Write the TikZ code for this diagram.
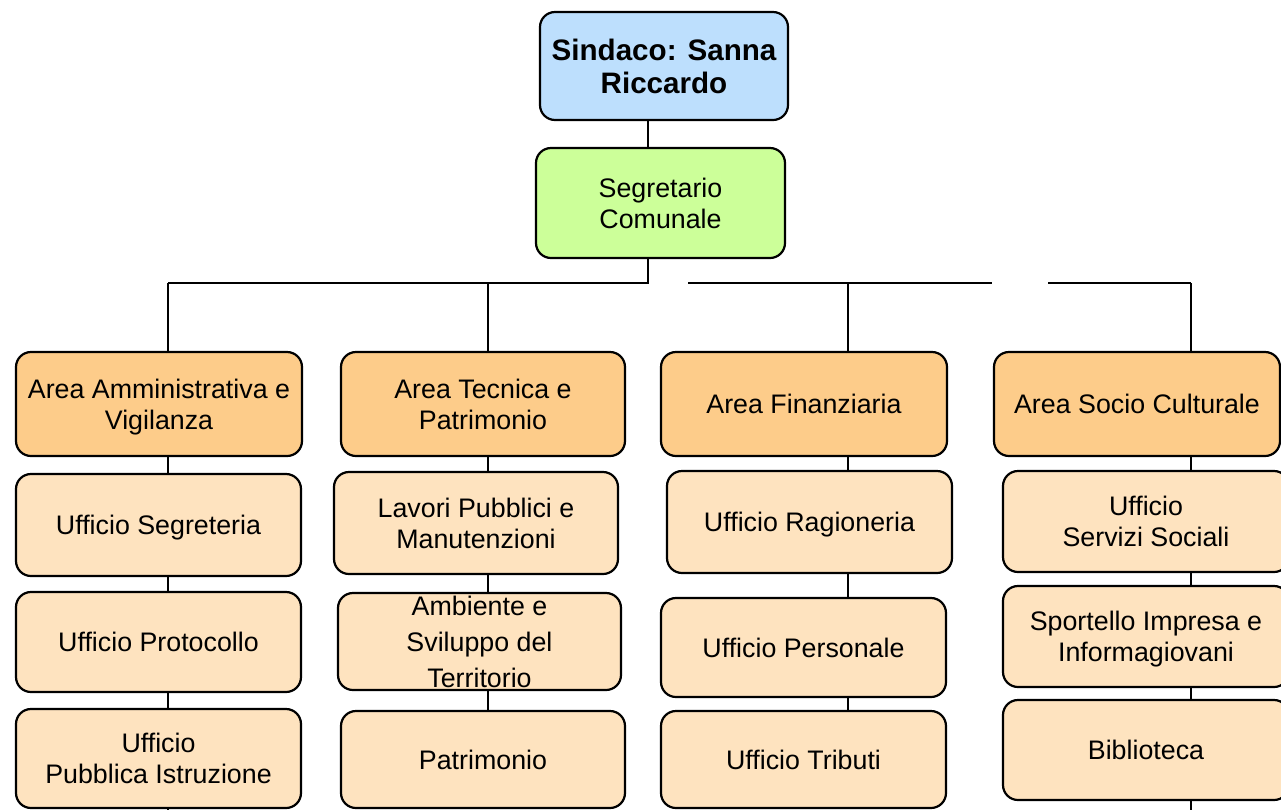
\documentclass[tikz,border=0pt]{standalone}
\usepackage{fontspec}
\setmainfont{Liberation Sans}
\usepackage{tikz}

\definecolor{sindacoblue}{HTML}{BDDFFD}
\definecolor{segrgreen}{HTML}{CCFF99}
\definecolor{areaorange}{HTML}{FDCC8A}
\definecolor{ufficiopeach}{HTML}{FEE3BF}

\tikzset{
  box/.style={draw=black, line width=1.1pt, rounded corners=7.5pt, align=center, inner sep=0pt,
    text depth=0pt, font=\fontsize{13.4}{15.5}\selectfont},
  areabox/.style={box, fill=areaorange, minimum width=143pt, minimum height=52pt},
  uffbox/.style={box, fill=ufficiopeach, minimum width=142.5pt, minimum height=50pt},
  link/.style={line width=0.8pt},
}

\begin{document}
\begin{tikzpicture}[x=0.5pt,y=-0.5pt]
            \clip (0,0) rectangle (1281,810);
            % Top boxes
            \node[box, fill=sindacoblue, minimum width=124pt, minimum height=54pt,
              font=\bfseries\fontsize{14.8}{16.5}\selectfont] (sindaco) at (664,66) {Sindaco: Sanna\\Riccardo};
            \node[box, fill=segrgreen, minimum width=124.5pt, minimum height=55pt] (segretario) at (660.5,203) {Segretario\\Comunale};
            % Areas
            \node[areabox] (areaAmm) at (159,404) {Area Amministrativa e\\Vigilanza};
            \node[areabox, minimum width=142pt] (areaTec) at (483,404) {Area Tecnica e\\Patrimonio};
            \node[areabox] (areaFin) at (804,404) {Area Finanziaria};
            \node[areabox] (areaSoc) at (1137,404) {Area Socio Culturale};
            % Uffici
            \node[uffbox, minimum height=51pt] (segreteria) at (158.5,525) {Ufficio Segreteria};
            \node[uffbox] (protocollo) at (158.5,642) {Ufficio Protocollo};
            \node[uffbox, minimum height=49.5pt] (istruzione) at (158.5,758.5) {Ufficio\\Pubblica Istruzione};
            \node[uffbox, minimum width=142pt, minimum height=51pt] (lavori) at (476,523) {Lavori Pubblici e\\Manutenzioni};
            \node[uffbox, minimum width=141.5pt, minimum height=48.5pt,
              font=\fontsize{13.4}{18}\selectfont] (ambiente) at (479.5,641.5) {Ambiente e\\Sviluppo del\\Territorio};
            \node[uffbox, minimum width=142pt, minimum height=48.5pt] (patrimonio) at (483,759.5) {Patrimonio};
            \node[uffbox, minimum height=51pt, text depth=-2.5pt] (ragioneria) at (809.5,522) {Ufficio Ragioneria};
            \node[uffbox, minimum height=49.5pt] (personale) at (803.5,647.5) {Ufficio Personale};
            \node[uffbox, minimum height=48.5pt, text depth=-3pt] (tributi) at (803.5,759.5) {Ufficio Tributi};
            \node[uffbox, minimum width=143pt, minimum height=50.5pt] (servizi) at (1146,521.5) {Ufficio\\Servizi Sociali};
            \node[uffbox, minimum width=143pt, minimum height=50.5pt] (sportello) at (1146,636.5) {Sportello Impresa e\\Informagiovani};
            \node[uffbox, minimum width=143pt] (biblioteca) at (1146,750) {Biblioteca};
            % Bus line
            \coordinate (busTop) at (648,283);
            \coordinate (busAmm) at (168,283);
            \coordinate (busTec) at (488,283);
            \coordinate (busFin) at (848,283);
            \coordinate (busSoc) at (1191,283);
            \coordinate (gapL) at (688,283);
            \coordinate (gapR) at (992,283);
            \coordinate (gapS) at (1048,283);
            \coordinate (endAmm) at (168,810);
            \coordinate (endSoc) at (1191,810);
            \draw[link] (sindaco.south -| busTop) -- (segretario.north -| busTop);
            \draw[link] (segretario.south -| busTop) -- (busTop) -- (busAmm);
            \draw[link] (gapL) -- (gapR);
            \draw[link] (gapS) -- (busSoc);
            % Columns
            \foreach \bus/\a in {busAmm/areaAmm, busTec/areaTec, busFin/areaFin, busSoc/areaSoc}
              \draw[link] (\bus) -- (\a.north -| \bus);
            \foreach \bus/\a/\b in {busAmm/areaAmm/segreteria, busAmm/segreteria/protocollo, busAmm/protocollo/istruzione,
                busTec/areaTec/lavori, busTec/lavori/ambiente, busTec/ambiente/patrimonio,
                busFin/areaFin/ragioneria, busFin/ragioneria/personale, busFin/personale/tributi,
                busSoc/areaSoc/servizi, busSoc/servizi/sportello, busSoc/sportello/biblioteca}
              \draw[link] (\a.south -| \bus) -- (\b.north -| \bus);
            \draw[link] (istruzione.south -| endAmm) -- (endAmm);
            \draw[link] (biblioteca.south -| endSoc) -- (endSoc);
        \end{tikzpicture}
\end{document}
